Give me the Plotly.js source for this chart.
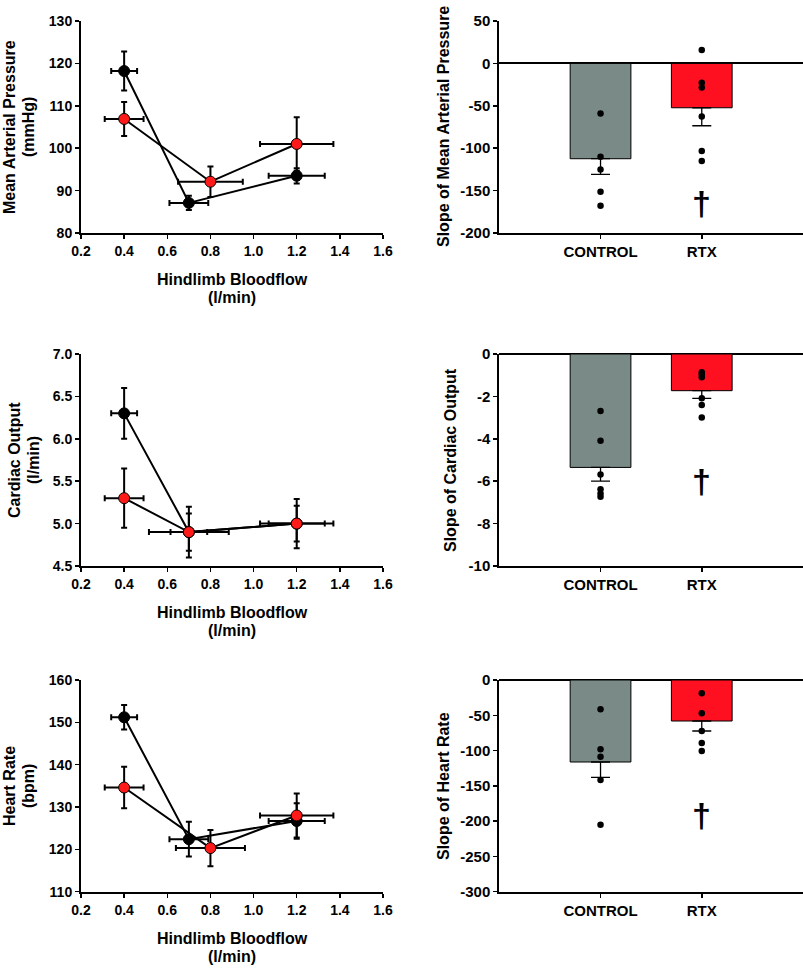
<!DOCTYPE html>
<html><head><meta charset="utf-8">
<script src="https://cdn.plot.ly/plotly-3.0.1.min.js"></script>
<style>html,body{margin:0;padding:0;background:#fff}</style>
</head><body><div id="chart" style="width:803px;height:969px"></div>
<script>
// ---- Left panels: hindlimb bloodflow vs responses ----
var ctrlFlowMAP = [0.4, 0.7, 1.2];
var ctrlFlowMAPErr = [0.06, 0.09, 0.13];
var ctrlMAP = [118.2, 87.1, 93.5];
var ctrlMAPErr = [4.6, 1.7, 1.8];
var rtxFlowMAP = [0.4, 0.8, 1.2];
var rtxFlowMAPErr = [0.09, 0.15, 0.17];
var rtxMAP = [106.9, 92.1, 101.0];
var rtxMAPErr = [4.0, 3.6, 6.3];

var ctrlFlowCO = [0.4, 0.7, 1.2];
var ctrlFlowCOErr = [0.06, 0.085, 0.13];
var ctrlCO = [6.3, 4.9, 5.0];
var ctrlCOErr = [0.3, 0.3, 0.21];
var rtxFlowCO = [0.4, 0.7, 1.2];
var rtxFlowCOErr = [0.09, 0.185, 0.17];
var rtxCO = [5.3, 4.9, 5.0];
var rtxCOErr = [0.35, 0.22, 0.29];

var ctrlFlowHR = [0.4, 0.7, 1.2];
var ctrlFlowHRErr = [0.06, 0.09, 0.13];
var ctrlHR = [151.2, 122.4, 126.7];
var ctrlHRErr = [2.9, 4.1, 4.2];
var rtxFlowHR = [0.4, 0.8, 1.2];
var rtxFlowHRErr = [0.09, 0.16, 0.17];
var rtxHR = [134.6, 120.3, 128.0];
var rtxHRErr = [4.9, 4.3, 5.2];

var flowTicks = [0.2, 0.4, 0.6, 0.8, 1.0, 1.2, 1.4, 1.6];
var flowTickText = ['0.2', '0.4', '0.6', '0.8', '1.0', '1.2', '1.4', '1.6'];
var mapTicks = [80, 90, 100, 110, 120, 130];
var coTicks = [4.5, 5.0, 5.5, 6.0, 6.5, 7.0];
var coTickText = ['4.5', '5.0', '5.5', '6.0', '6.5', '7.0'];
var hrTicks = [110, 120, 130, 140, 150, 160];

// ---- Right panels: slopes ----
var groups = ['CONTROL', 'RTX'];
var slopeMAPTicks = [50, 0, -50, -100, -150, -200];
var slopeMAPMean = [-112.4, -52.3];
var slopeMAPSE = [18.5, 21.2];
var slopeMAPCtrlDots = [-59, -110, -125, -151.3, -167.8];
var slopeMAPRtxDots = [15.7, -22.8, -28.3, -62.5, -103.4, -115.2];
var slopeMAPDagger = -165;

var slopeCOTicks = [0, -2, -4, -6, -8, -10];
var slopeCOMean = [-5.35, -1.73];
var slopeCOSE = [0.65, 0.36];
var slopeCOCtrlDots = [-2.69, -4.09, -5.68, -6.38, -6.58, -6.73];
var slopeCORtxDots = [-0.86, -0.97, -1.10, -2.09, -2.41, -2.99];
var slopeCODagger = -6.0;

var slopeHRTicks = [0, -50, -100, -150, -200, -250, -300];
var slopeHRMean = [-116.2, -58.1];
var slopeHRSE = [21.7, 14.2];
var slopeHRCtrlDots = [-41.6, -98.3, -108.6, -141.7, -205];
var slopeHRRtxDots = [-18.9, -47.2, -72.3, -89.3, -100.6];
var slopeHRDagger = -191;

var BLACK = '#000000', RED = '#ff1a1a', GRAY = '#7a8a86', BARRED = '#ff1020';
var FONT = 'Liberation Sans, Arial, sans-serif';

function lineTrace(xs, xe, ys, ye, color, xa, ya) {
  return {type: 'scatter', mode: 'lines+markers', x: xs, y: ys, xaxis: xa, yaxis: ya,
    line: {color: BLACK, width: 2},
    marker: {size: 11, color: color, line: {color: BLACK, width: 1}},
    error_x: {type: 'data', array: xe, visible: true, color: BLACK, thickness: 2, width: 3},
    error_y: {type: 'data', array: ye, visible: true, color: BLACK, thickness: 2, width: 3},
    hoverinfo: 'skip', showlegend: false, cliponaxis: false};
}
function barTrace(means, se, xa, ya) {
  return {type: 'bar', x: [0, 1], y: means, width: 0.6, xaxis: xa, yaxis: ya,
    marker: {color: [GRAY, BARRED], line: {color: BLACK, width: 1}},
    error_y: {type: 'data', symmetric: false, array: [0, 0], arrayminus: se, visible: true,
      color: BLACK, thickness: 1.3, width: 9.5},
    hoverinfo: 'skip', showlegend: false};
}
function dotTrace(ctrl, rtx, xa, ya) {
  return {type: 'scatter', mode: 'markers',
    x: ctrl.map(function () { return 0; }).concat(rtx.map(function () { return 1; })),
    y: ctrl.concat(rtx), xaxis: xa, yaxis: ya,
    marker: {size: 6.5, color: BLACK}, hoverinfo: 'skip', showlegend: false, cliponaxis: false};
}

var data = [
  lineTrace(ctrlFlowMAP, ctrlFlowMAPErr, ctrlMAP, ctrlMAPErr, BLACK, 'x', 'y'),
  lineTrace(rtxFlowMAP, rtxFlowMAPErr, rtxMAP, rtxMAPErr, RED, 'x', 'y'),
  lineTrace(ctrlFlowCO, ctrlFlowCOErr, ctrlCO, ctrlCOErr, BLACK, 'x3', 'y3'),
  lineTrace(rtxFlowCO, rtxFlowCOErr, rtxCO, rtxCOErr, RED, 'x3', 'y3'),
  lineTrace(ctrlFlowHR, ctrlFlowHRErr, ctrlHR, ctrlHRErr, BLACK, 'x5', 'y5'),
  lineTrace(rtxFlowHR, rtxFlowHRErr, rtxHR, rtxHRErr, RED, 'x5', 'y5'),
  barTrace(slopeMAPMean, slopeMAPSE, 'x2', 'y2'),
  dotTrace(slopeMAPCtrlDots, slopeMAPRtxDots, 'x2', 'y2'),
  barTrace(slopeCOMean, slopeCOSE, 'x4', 'y4'),
  dotTrace(slopeCOCtrlDots, slopeCORtxDots, 'x4', 'y4'),
  barTrace(slopeHRMean, slopeHRSE, 'x6', 'y6'),
  dotTrace(slopeHRCtrlDots, slopeHRRtxDots, 'x6', 'y6')
];

var W = 803, H = 969;
var leftDom = [81 / W, 383 / W];
var rightDom = [499.3 / W, 1];
var rowDom = [
  [1 - 233 / H, 1 - 21 / H],
  [1 - 566 / H, 1 - 354 / H],
  [1 - 891.7 / H, 1 - 680 / H]
];
var tickFont = {family: FONT, size: 14, color: BLACK, weight: 'bold'};
function labels(vals) { return vals.map(function (v) { return String(v); }); }

function axisBase() {
  return {showline: true, linewidth: 2, linecolor: BLACK, ticks: 'outside', ticklen: 4, tickwidth: 1.5,
    tickcolor: BLACK, showgrid: false, zeroline: false, fixedrange: true};
}
function leftX(anchor) {
  var a = axisBase();
  a.domain = leftDom; a.anchor = anchor; a.range = [0.2, 1.6];
  a.tickvals = flowTicks; a.ticktext = flowTickText; a.tickfont = tickFont;
  return a;
}
function leftY(row, anchor, range, vals, text) {
  var a = axisBase();
  a.domain = rowDom[row]; a.anchor = anchor; a.range = range;
  a.tickvals = vals; a.ticktext = text || labels(vals); a.tickfont = tickFont;
  return a;
}
function rightX(anchor) {
  var a = axisBase();
  a.domain = rightDom; a.anchor = anchor; a.range = [-1, 2];
  a.tickvals = [0, 1]; a.ticktext = groups;
  a.tickfont = {family: FONT, size: 15, color: BLACK, weight: 'bold'};
  return a;
}
function rightY(row, anchor, range, vals) {
  var a = axisBase();
  a.domain = rowDom[row]; a.anchor = anchor; a.range = range;
  a.tickvals = vals; a.ticktext = labels(vals);
  a.zeroline = true; a.zerolinecolor = BLACK; a.zerolinewidth = 2;
  a.tickfont = {family: FONT, size: 15, color: BLACK, weight: 'bold'};
  return a;
}

function ann(text, px, py, angle) {
  return {text: text, xref: 'paper', yref: 'paper', x: px / W, y: 1 - py / H,
    xanchor: 'center', yanchor: 'middle', showarrow: false, textangle: angle || 0,
    font: {family: FONT, size: 16, color: BLACK, weight: 'bold'}};
}
function dagger(xa, ya, yv) {
  return {text: '†', xref: xa, yref: ya, x: 1, y: yv, xanchor: 'center', yanchor: 'middle',
    showarrow: false, font: {family: FONT, size: 34, color: BLACK, weight: 'bold'}};
}

var annotations = [
  ann('Mean Arterial Pressure', 9, 127, -90), ann('(mmHg)', 28, 127, -90),
  ann('Cardiac Output', 14, 460, -90), ann('(l/min)', 33, 460, -90),
  ann('Heart Rate', 9, 786, -90), ann('(bpm)', 28, 786, -90),
  ann('Hindlimb Bloodflow', 232, 280), ann('(l/min)', 232, 298),
  ann('Hindlimb Bloodflow', 232, 612), ann('(l/min)', 232, 630),
  ann('Hindlimb Bloodflow', 232, 938), ann('(l/min)', 232, 956),
  ann('Slope of Mean Arterial Pressure', 443, 127, -90),
  ann('Slope of Cardiac Output', 450, 460, -90),
  ann('Slope of Heart Rate', 443, 786, -90),
  dagger('x2', 'y2', slopeMAPDagger),
  dagger('x4', 'y4', slopeCODagger),
  dagger('x6', 'y6', slopeHRDagger)
];

var layout = {
  width: W, height: H, margin: {l: 0, r: 0, t: 0, b: 0},
  paper_bgcolor: '#fff', plot_bgcolor: 'rgba(0,0,0,0)', showlegend: false,
  font: {family: FONT, color: BLACK},
  bargap: 0,
  xaxis: leftX('y'), yaxis: leftY(0, 'x', [80, 130], mapTicks),
  xaxis3: leftX('y3'), yaxis3: leftY(1, 'x3', [4.5, 7.0], coTicks, coTickText),
  xaxis5: leftX('y5'), yaxis5: leftY(2, 'x5', [110, 160], hrTicks),
  xaxis2: rightX('y2'), yaxis2: rightY(0, 'x2', [-200, 50], slopeMAPTicks),
  xaxis4: rightX('y4'), yaxis4: rightY(1, 'x4', [-10, 0], slopeCOTicks),
  xaxis6: rightX('y6'), yaxis6: rightY(2, 'x6', [-300, 0], slopeHRTicks),
  annotations: annotations
};

Plotly.newPlot('chart', data, layout, {displayModeBar: false, staticPlot: true});
</script></body></html>
